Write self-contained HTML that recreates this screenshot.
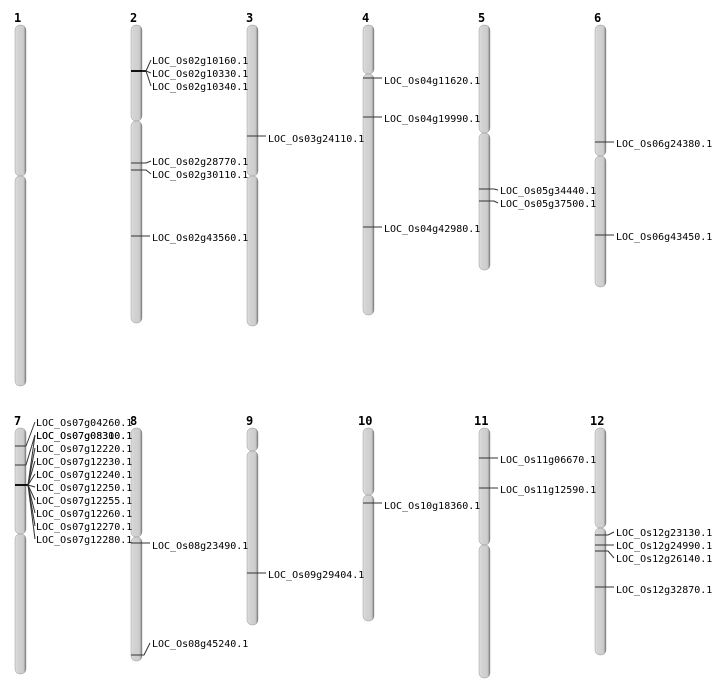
<!DOCTYPE html>
<html><head><meta charset="utf-8"><style>
html,body{margin:0;padding:0;background:#fff;width:712px;height:700px;overflow:hidden}
text{font-family:"DejaVu Sans Mono","Liberation Mono",monospace;font-size:10px;fill:#000}
.n{font-family:"DejaVu Sans Mono","Liberation Mono",monospace;font-size:12px;font-weight:bold}
</style></head><body>
<svg width="712" height="700" xmlns="http://www.w3.org/2000/svg">
<defs>
<linearGradient id="g" x1="0" x2="1" y1="0" y2="0">
<stop offset="0" stop-color="#dedede"/><stop offset="0.3" stop-color="#d2d2d2"/><stop offset="0.75" stop-color="#cdcdcd"/><stop offset="0.88" stop-color="#aaa"/><stop offset="1" stop-color="#666"/>
</linearGradient>
</defs>
<g id="chroms" fill="url(#g)" stroke="#999" stroke-width="0.5">
<rect x="15" y="25" width="11" height="151" rx="5"/><rect x="15" y="176" width="11" height="210" rx="5"/>
<rect x="131" y="25" width="11" height="96" rx="5"/><rect x="131" y="121" width="11" height="202" rx="5"/>
<rect x="247" y="25" width="11" height="151" rx="5"/><rect x="247" y="176" width="11" height="150" rx="5"/>
<rect x="363" y="25" width="11" height="49" rx="5"/><rect x="363" y="74" width="11" height="241" rx="5"/>
<rect x="479" y="25" width="11" height="108" rx="5"/><rect x="479" y="133" width="11" height="137" rx="5"/>
<rect x="595" y="25" width="11" height="131" rx="5"/><rect x="595" y="156" width="11" height="131" rx="5"/>
<rect x="15" y="428" width="11" height="106" rx="5"/><rect x="15" y="534" width="11" height="140" rx="5"/>
<rect x="131" y="428" width="11" height="109" rx="5"/><rect x="131" y="537" width="11" height="124" rx="5"/>
<rect x="247" y="428" width="11" height="23" rx="5"/><rect x="247" y="451" width="11" height="174" rx="5"/>
<rect x="363" y="428" width="11" height="67" rx="5"/><rect x="363" y="495" width="11" height="126" rx="5"/>
<rect x="479" y="428" width="11" height="117" rx="5"/><rect x="479" y="545" width="11" height="133" rx="5"/>
<rect x="595" y="428" width="11" height="100" rx="5"/><rect x="595" y="528" width="11" height="127" rx="5"/>
</g>
<g class="nums">
<text class="n" x="14" y="22">1</text><text class="n" x="130" y="22">2</text><text class="n" x="246" y="22">3</text>
<text class="n" x="362" y="22">4</text><text class="n" x="478" y="22">5</text><text class="n" x="594" y="22">6</text>
<text class="n" x="14" y="425">7</text><text class="n" x="130" y="425">8</text><text class="n" x="246" y="425">9</text>
<text class="n" x="358" y="425">10</text><text class="n" x="474" y="425">11</text><text class="n" x="590" y="425">12</text>
</g>
<g stroke="#333" stroke-width="1" fill="none">
<line x1="131" y1="71" x2="146" y2="71" stroke-width="2" stroke="#111"/>
<polyline points="142,71 146,71 151,60"/><polyline points="146,71 151,73"/><polyline points="146,71 151,86"/>
<polyline points="131,163 146,163 151,161"/><polyline points="131,170 146,170 151,174"/>
<line x1="131" y1="236" x2="150" y2="236"/>
<line x1="247" y1="136" x2="266" y2="136"/>
<line x1="363" y1="78" x2="382" y2="78"/><line x1="363" y1="117" x2="382" y2="117"/><line x1="363" y1="227" x2="382" y2="227"/>
<polyline points="479,189 494,189 498,190"/><polyline points="479,201 494,201 498,203"/>
<line x1="595" y1="142" x2="614" y2="142"/><line x1="595" y1="235" x2="614" y2="235"/>
<line x1="15" y1="446" x2="26" y2="446"/><line x1="15" y1="465" x2="26" y2="465"/>
<line x1="15" y1="485" x2="28" y2="485" stroke-width="2" stroke="#111"/>
<polyline points="26,446 35,422"/><polyline points="26,465 35,435"/>
<polyline points="28,485 35,435"/><polyline points="28,485 35,448"/><polyline points="28,485 35,461"/>
<polyline points="28,485 35,474"/><polyline points="28,485 35,487"/><polyline points="28,485 35,500"/>
<polyline points="28,485 35,513"/><polyline points="28,485 35,526"/><polyline points="28,485 35,539"/>
<line x1="131" y1="543" x2="150" y2="543"/>
<polyline points="131,655 144,655 150,643"/>
<line x1="247" y1="573" x2="266" y2="573"/>
<line x1="363" y1="503" x2="382" y2="503"/>
<line x1="479" y1="458" x2="498" y2="458"/><line x1="479" y1="488" x2="498" y2="488"/>
<polyline points="595,535 608,535 614,532"/><line x1="595" y1="545" x2="614" y2="545"/>
<polyline points="595,551 608,551 614,558"/><line x1="595" y1="587" x2="614" y2="587"/>
</g>
<g dominant-baseline="middle">
<text x="152" y="61">LOC_Os02g10160.1</text><text x="152" y="74">LOC_Os02g10330.1</text><text x="152" y="87">LOC_Os02g10340.1</text>
<text x="152" y="162">LOC_Os02g28770.1</text><text x="152" y="175">LOC_Os02g30110.1</text><text x="152" y="238">LOC_Os02g43560.1</text>
<text x="268" y="139">LOC_Os03g24110.1</text>
<text x="384" y="81">LOC_Os04g11620.1</text><text x="384" y="119">LOC_Os04g19990.1</text><text x="384" y="229">LOC_Os04g42980.1</text>
<text x="500" y="191">LOC_Os05g34440.1</text><text x="500" y="204">LOC_Os05g37500.1</text>
<text x="616" y="144">LOC_Os06g24380.1</text><text x="616" y="237">LOC_Os06g43450.1</text>
<text x="36" y="423">LOC_Os07g04260.1</text><text x="36" y="436">LOC_Os07g08300.1</text><text x="36" y="436">LOC_Os07g08310.1</text>
<text x="36" y="449">LOC_Os07g12220.1</text><text x="36" y="462">LOC_Os07g12230.1</text><text x="36" y="475">LOC_Os07g12240.1</text>
<text x="36" y="488">LOC_Os07g12250.1</text><text x="36" y="501">LOC_Os07g12255.1</text><text x="36" y="514">LOC_Os07g12260.1</text>
<text x="36" y="527">LOC_Os07g12270.1</text><text x="36" y="540">LOC_Os07g12280.1</text>
<text x="152" y="546">LOC_Os08g23490.1</text><text x="152" y="644">LOC_Os08g45240.1</text>
<text x="268" y="575">LOC_Os09g29404.1</text>
<text x="384" y="506">LOC_Os10g18360.1</text>
<text x="500" y="460">LOC_Os11g06670.1</text><text x="500" y="490">LOC_Os11g12590.1</text>
<text x="616" y="533">LOC_Os12g23130.1</text><text x="616" y="546">LOC_Os12g24990.1</text><text x="616" y="559">LOC_Os12g26140.1</text>
<text x="616" y="590">LOC_Os12g32870.1</text>
</g>
</svg>
</body></html>
